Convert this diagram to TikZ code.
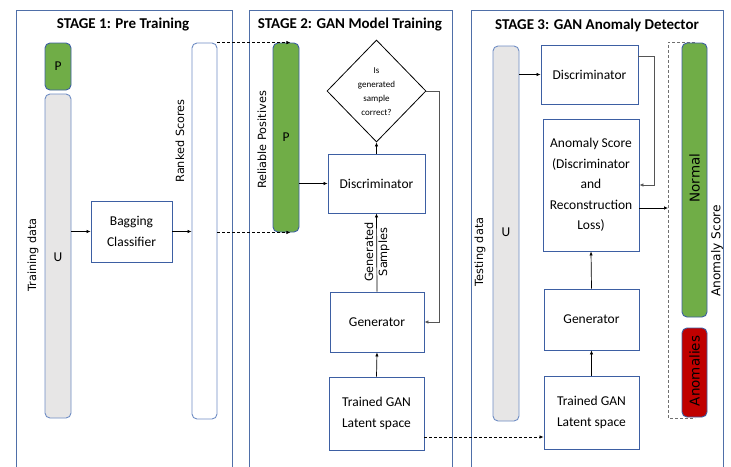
\documentclass[tikz,border=0pt]{standalone}
\usepackage{fontspec}
\setmainfont{Carlito}
\newfontfamily\rotfont{DejaVu Sans}
\usetikzlibrary{arrows.meta,shapes.geometric,calc}
\definecolor{frameblue}{HTML}{4F6FA8}
\definecolor{boxblue}{HTML}{3D5FA3}
\definecolor{lightborder}{HTML}{6F8DC4}
\definecolor{pgreen}{HTML}{70AD47}
\definecolor{pred}{HTML}{C00000}
\definecolor{ugray}{HTML}{E7E6E6}
\definecolor{linegray}{HTML}{555555}
\definecolor{dashgray}{HTML}{707070}
\begin{document}
\begin{tikzpicture}[x=1pt,y=-1pt,
  frame/.style={draw=frameblue,line width=0.9pt},
  title/.style={font=\fontsize{15}{18}\selectfont\bfseries},
  block/.style={draw=boxblue,line width=0.9pt,fill=white,inner sep=0pt,align=center,
     font=\fontsize{13.5}{20.5}\selectfont},
  bar/.style={draw=lightborder,line width=0.9pt,rounded corners=5pt,inner sep=0pt,
     font=\fontsize{13.5}{16}\selectfont},
  greenbar/.style={bar,fill=pgreen,draw=boxblue},
  redbar/.style={bar,fill=pred,draw=boxblue},
  graybar/.style={bar,fill=ugray},
  whitebar/.style={bar,fill=white},
  rlabel/.style={rotate=90,font=\rotfont\fontsize{11.3}{14}\selectfont,inner sep=0pt,align=center},
  conn/.style={draw=black,line width=0.7pt,-{Latex[length=4pt,width=3.5pt]}},
  gconn/.style={draw=linegray,line width=0.7pt,-{Latex[length=4pt,width=3.5pt]}},
  dconn/.style={draw=black,line width=0.7pt,dashed,dash pattern=on 3pt off 2pt,-{Latex[length=4pt,width=3.5pt]}}
]
\clip (0,0) rectangle (731,466);
\fill[white] (0,0) rectangle (731,466);

% frames
\draw[frame] (16,10) rectangle (232,475);
\draw[frame] (249,10) rectangle (452,475);
\draw[frame] (471,10) rectangle (723,475);

\node[title] (t1) at (123,25) {STAGE 1: Pre Training};
\node[title] (t2) at (350,25) {STAGE 2: GAN Model Training};
\node[title] (t3) at (597,25) {STAGE 3: GAN Anomaly Detector};

% ---------- Stage 1
\node[greenbar,minimum width=26,minimum height=47] (P1) at (58,66.5) {P};
\node[graybar,minimum width=26,minimum height=324] (U1) at (58,256) {};
\node[font=\fontsize{13.5}{16}\selectfont] (U1t) at (58,257) {U};
\node[rlabel] (trd) at (33,255) {Training data};
\node[block,minimum width=81,minimum height=61] (bag) at (131.5,231.5) {Bagging\\Classifier};
\node[whitebar,minimum width=25,minimum height=376] (rank) at (204.5,231) {};
\node[rlabel] (rkl) at (180,141) {Ranked Scores};
\draw[conn] (U1.east |- bag.west) -- (bag.west);
\draw[conn] (bag.east) -- (bag.east -| rank.west);

% ---------- Stage 2
\node[greenbar,minimum width=26,minimum height=189] (P2) at (286,137.5) {P};
\node[rlabel] (rpl) at (262,140) {Reliable Positives};
\node[block,minimum width=97,minimum height=59] (disc2) at (376.5,183.5) {Discriminator};
\node[diamond,draw=black,line width=0.8pt,fill=white,minimum width=99,minimum height=102,inner sep=0pt] (dia) at (376.5,91) {};
\node[align=center,font=\fontsize{9}{14}\selectfont] (diat) at (376.5,92) {Is\\generated\\sample\\correct?};
\node[block,minimum width=94,minimum height=60] (gen2) at (377,322) {Generator};
\node[block,minimum width=95,minimum height=73] (tr2) at (376.5,413.5) {Trained GAN\\Latent space};

\coordinate (d1s) at ($(rank.north east)$);
\coordinate (d1e) at ($(P2.north east)+(-9,0)$);
\draw[dconn] (d1s) -- (d1e);
\coordinate (d2e) at ($(P2.south east)+(-9,0)$);
\coordinate (d2s) at (rank.east |- d2e);
\draw[dconn] (d2s) -- (d2e);

\draw[conn] (P2.east |- disc2.west) -- (disc2.west);
\draw[conn] (disc2.north) -- (dia.south);
\draw[gconn] (dia.east) -- ++(13,0) |- (gen2.east);
\draw[conn] (gen2.north) -- (disc2.south);
\node[rlabel] (gsl) at (377,252) {Generated\\Samples};
\draw[conn] (tr2.north) -- (gen2.south);

% ---------- Stage 3
\node[graybar,minimum width=26,minimum height=375] (U3) at (506,233.5) {};
\node[font=\fontsize{13.5}{16}\selectfont] (U3t) at (506,232) {U};
\node[rlabel] (tsl) at (480,252) {Testing data};
\node[block,minimum width=97,minimum height=59] (disc3) at (589.5,74.5) {Discriminator};
\node[block,minimum width=96,minimum height=132] (anom) at (591,185) {Anomaly Score\\(Discriminator\\and\\Reconstruction\\Loss)};
\node[block,minimum width=95,minimum height=61] (gen3) at (591.5,319.5) {Generator};
\node[block,minimum width=95,minimum height=73] (tr3) at (591.5,412.5) {Trained GAN\\Latent space};

\coordinate (d3s) at ([yshift=-23.5pt]tr2.east);
\draw[dconn] (d3s) -- (d3s -| tr3.west);

% dashed bracket
\coordinate (b1) at (695,42);
\coordinate (b2) at (668,42);
\coordinate (b3) at (668,418);
\coordinate (b4) at (695,418);
\draw[draw=dashgray,line width=0.9pt,dash pattern=on 3pt off 2pt] (b1) -- (b2) -- (b3) -- (b4);

\node[greenbar,minimum width=25,minimum height=274] (norm) at (694.5,180) {};
\node[rotate=90,font=\rotfont\fontsize{13.5}{16}\selectfont] (normt) at (694.5,178) {Normal};
\node[redbar,minimum width=25,minimum height=89] (anb) at (694.5,372.5) {};
\node[rotate=90,font=\rotfont\fontsize{13.5}{16}\selectfont] (anbt) at (694.5,371) {Anomalies};
\node[rlabel,font=\rotfont\fontsize{12.2}{14}\selectfont] (asl) at (717,251) {Anomaly Score};

\draw[conn] (U3.east |- disc3.west) -- (disc3.west);
\coordinate (c3) at ([yshift=18.5pt]disc3.east);
\draw[gconn] (c3) -- ++(16,0) |- (anom.east);
\coordinate (c4) at ([yshift=-23pt]anom.east);
\draw[conn] (c4) -- (c4 -| b2);
\draw[conn] (gen3.north) -- (anom.south);
\draw[conn] (tr3.north) -- (gen3.south);
\end{tikzpicture}
\end{document}
